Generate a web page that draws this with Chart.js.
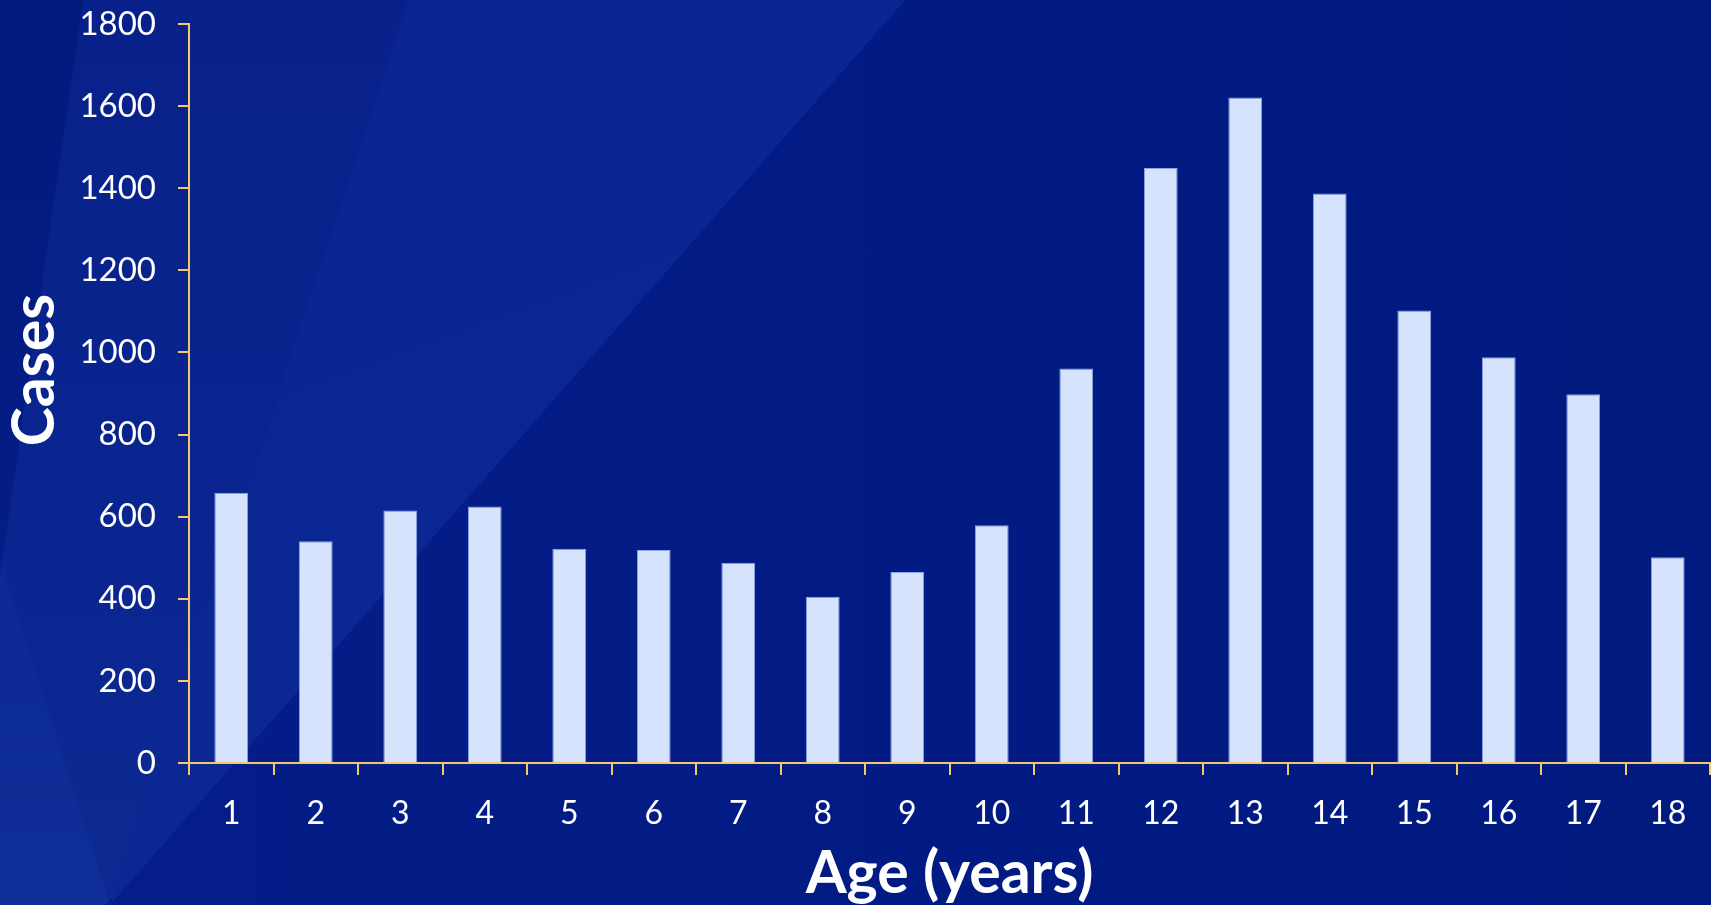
<!DOCTYPE html>
<html>
<head>
<meta charset="utf-8">
<script src="https://cdn.jsdelivr.net/npm/chart.js@4/dist/chart.umd.min.js"></script>
<style>
  html, body { margin: 0; padding: 0; overflow: hidden; }
  body { width: 1711px; height: 905px; position: relative; background: linear-gradient(90deg, #041d88 0%, #021b84 55%, #011a80 100%); }
  .beam { position: absolute; left: 0; top: 0; width: 1711px; height: 905px; }
  /* light beams of the slide backdrop */
  #b1 { background: linear-gradient(180deg, #08218a 0%, #0a2590 60%, #0d2a92 100%); clip-path: polygon(0 0, 905px 0, 105px 905px, 0 905px); }
  #b2 { background: linear-gradient(160deg, #09248f 0%, #0a2793 50%, #0a2792 100%); clip-path: polygon(408px 0, 905px 0, 110px 905px); }
  #b3 { background: linear-gradient(180deg, #021a7e 0%, #06208a 100%); clip-path: polygon(0 0, 83px 0, 0 577px); }
  #b4 { background: linear-gradient(180deg, rgba(40,80,190,0) 0%, rgba(40,80,190,0.12) 100%); clip-path: polygon(0 560px, 0 905px, 110px 905px); }
  canvas { display: block; position: absolute; left: 0; top: 0; }
</style>
</head>
<body>
<div class="beam" id="b1"></div>
<div class="beam" id="b2"></div>
<div class="beam" id="b3"></div>
<div class="beam" id="b4"></div>
<canvas id="graphique" width="1711" height="905"></canvas>
<script>
var ages = ['1', '2', '3', '4', '5', '6', '7', '8', '9', '10', '11', '12', '13', '14', '15', '16', '17', '18']
var cases = [658, 540, 615, 625, 522, 519, 488, 405, 465, 579, 961, 1449, 1621, 1387, 1102, 988, 898, 501]
var yTicks = [0, 200, 400, 600, 800, 1000, 1200, 1400, 1600, 1800]

var axisColor = '#f7c56b'
var titleFont = { family: 'Lato', size: 59, weight: 'bold', lineHeight: 1 }
var ctx = document.getElementById('graphique')

// y title sits a bit above the plot centre, so it is drawn by hand
var casesTitle = {
    id: 'casesTitle',
    afterDraw: function (chart) {
        var c = chart.ctx
        c.save()
        c.translate(35, 370)
        c.rotate(-Math.PI / 2)
        c.fillStyle = '#ffffff'
        c.font = 'bold 59px Lato'
        c.textAlign = 'center'
        c.textBaseline = 'middle'
        c.fillText('Cases', 0, 0)
        c.restore()
    }
}

var barChart = new Chart(ctx, {
    type: 'bar',
    data: {
        labels: ages,
        datasets: [{
            data: cases,
            backgroundColor: '#d6e3fc',
            borderColor: '#8ea3e4',
            borderWidth: 1,
            barPercentage: 0.4,
            categoryPercentage: 1
        }]
    },
    options: {
        responsive: false,
        animation: false,
        devicePixelRatio: 1,
        layout: { padding: { top: 0, right: 1, left: 0, bottom: 0 } },
        plugins: { legend: { display: false }, tooltip: { enabled: false } },
        scales: {
            x: {
                grid: { drawOnChartArea: false, offset: true, color: axisColor, lineWidth: 2, tickLength: 12 },
                border: { color: axisColor, width: 2 },
                ticks: { color: '#ffffff', padding: 19, font: { family: 'Lato', size: 32 } },
                title: {
                    display: true, text: 'Age (years)', color: '#ffffff',
                    font: titleFont,
                    padding: { top: 0, bottom: 2 }
                },
                afterFit: function (scale) { scale.height = 142 }
            },
            y: {
                min: 0,
                max: yTicks[yTicks.length - 1],
                afterBuildTicks: function (scale) {
                    scale.ticks = yTicks.map(function (v) { return { value: v } })
                },
                grid: { drawOnChartArea: false, color: axisColor, lineWidth: 2, tickLength: 11 },
                border: { color: axisColor, width: 2 },
                ticks: {
                    color: '#ffffff', padding: 22, font: { family: 'Lato', size: 33 },
                    callback: function (v) { return String(v) }
                },
                afterFit: function (scale) {
                    scale.width = 189
                    scale.paddingTop = 24
                    scale.paddingBottom = 0
                }
            }
        }
    },
    plugins: [casesTitle]
})
</script>
</body>
</html>
